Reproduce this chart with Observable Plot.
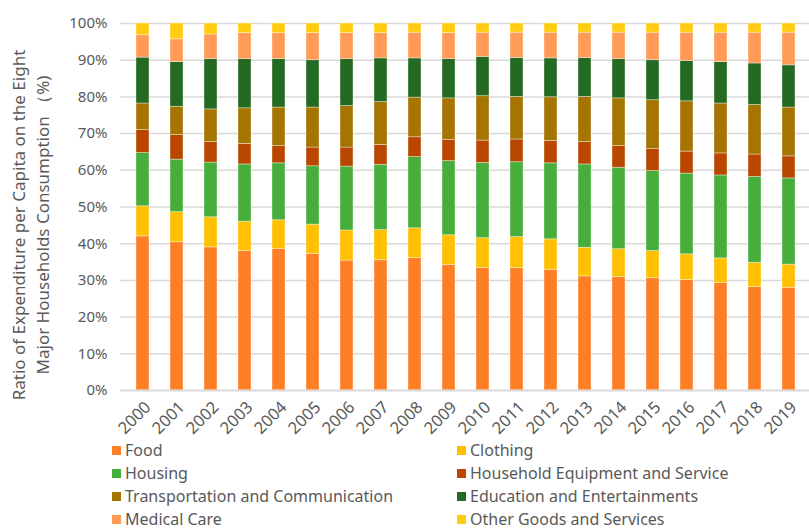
<!DOCTYPE html>
<html>
<head>
<meta charset="utf-8">
<script src="https://cdn.jsdelivr.net/npm/d3@7"></script>
<script src="https://cdn.jsdelivr.net/npm/@observablehq/plot@0.6"></script>
<style>
  html, body { margin: 0; padding: 0; background: #fff; }
  #wrap { position: relative; width: 809px; height: 529px; font-family: "Noto Sans", sans-serif; color: #595959; overflow: hidden; }
  #ylabel { position: absolute; left: 31px; top: 225px; transform: translate(-50%, -50%) rotate(-90deg); text-align: center; white-space: nowrap; font-size: 17px; line-height: 24px; color: #595959; }
  #legend { position: absolute; left: 0; top: 439px; width: 809px; }
  .li { position: absolute; font-size: 16px; line-height: 16px; white-space: nowrap; color: #595959; }
  .sw { position: absolute; width: 9px; height: 9px; }
</style>
</head>
<body>
<div id="wrap">
  <div id="chart"></div>
  <div id="ylabel">Ratio of Expenditure per Capita on the Eight<br>Major Households Consumption （%)</div>
  <div id="legend"></div>
</div>
<script>
const years = ["2000","2001","2002","2003","2004","2005","2006","2007","2008","2009","2010","2011","2012","2013","2014","2015","2016","2017","2018","2019"];
const categories = ["Food","Clothing","Housing","Household Equipment and Service","Transportation and Communication","Education and Entertainments","Medical Care","Other Goods and Services"];
const colors = ["#FF7F27","#FFC000","#47AE3C","#B94700","#A67500","#246A22","#FF9A57","#FFCC12"];

const food      = [42.0,40.4,39.0,38.0,38.6,37.2,35.4,35.5,36.1,34.2,33.4,33.4,32.9,31.1,30.9,30.6,30.1,29.3,28.2,28.0];
const clothing  = [ 8.2, 8.2, 8.2, 8.0, 7.8, 8.0, 8.2, 8.2, 8.1, 8.1, 8.1, 8.4, 8.3, 7.8, 7.6, 7.4, 7.0, 6.7, 6.6, 6.3];
const housing   = [14.5,14.3,14.9,15.6,15.5,15.9,17.4,17.8,19.4,20.2,20.5,20.4,20.7,22.7,22.2,21.8,22.0,22.6,23.4,23.5];
const household = [ 6.3, 6.7, 5.6, 5.6, 4.7, 5.1, 5.2, 5.4, 5.4, 5.8, 6.1, 6.2, 6.1, 6.1, 5.9, 6.0, 6.0, 6.0, 6.1, 6.0];
const transport = [ 7.2, 7.7, 8.9, 9.7,10.5,10.9,11.3,11.7,10.8,11.3,12.1,11.6,11.9,12.3,13.0,13.3,13.7,13.6,13.5,13.3];
const education = [12.5,12.2,13.7,13.4,13.2,12.9,12.8,11.9,10.7,10.7,10.7,10.6,10.6,10.6,10.7,10.9,11.0,11.3,11.3,11.5];
const medical   = [ 6.1, 6.2, 6.7, 7.1, 7.1, 7.4, 7.1, 6.9, 7.0, 7.1, 6.6, 6.9, 7.0, 6.9, 7.2, 7.5, 7.7, 8.0, 8.4, 8.9];
const other     = [ 3.2, 4.3, 3.0, 2.6, 2.6, 2.6, 2.6, 2.6, 2.5, 2.6, 2.5, 2.5, 2.5, 2.5, 2.5, 2.5, 2.5, 2.5, 2.5, 2.5];
const yTicks = [0,10,20,30,40,50,60,70,80,90,100];

const series = [food, clothing, housing, household, transport, education, medical, other];
const data = [];
years.forEach((yr, i) => {
  categories.forEach((c, k) => data.push({year: yr, category: c, value: series[k][i]}));
});

const chart = Plot.plot({
  width: 809,
  height: 440,
  marginLeft: 120,
  marginRight: -3,
  marginTop: 23,
  marginBottom: 50,
  style: {fontFamily: "'Noto Sans', sans-serif", color: "#595959", background: "transparent"},
  x: {domain: years, paddingInner: 0.61, paddingOuter: 0.305, label: null},
  y: {domain: [0, 100], label: null},
  color: {domain: categories, range: colors},
  marks: [
    Plot.ruleY(yTicks.filter(d => d > 0), {stroke: "#d9d9d9", strokeWidth: 1.5}),
    Plot.barY(data, Plot.stackY({x: "year", y: "value", fill: "category", order: categories, stroke: "#ffffff", strokeOpacity: 0.45, strokeWidth: 0.8})),
    Plot.ruleY([0], {stroke: "#d9d9d9", strokeWidth: 2.2}),
    Plot.axisY({ticks: yTicks, tickSize: 0, tickPadding: 13, tickFormat: d => d + "%", fontSize: 15, fill: "#595959"}),
    Plot.axisX({tickSize: 0, tickRotate: -45, tickPadding: 14, dx: 5, fontSize: 16.5, fill: "#595959"})
  ]
});
document.getElementById("chart").appendChild(chart);

const legend = document.getElementById("legend");
categories.forEach((c, k) => {
  const row = Math.floor(k / 2), col = k % 2;
  const x = col === 0 ? 112 : 457;
  const yc = 11.5 + row * 23;
  const sw = document.createElement("div");
  sw.className = "sw";
  sw.style.left = x + "px";
  sw.style.top = (yc - 4.5) + "px";
  sw.style.background = colors[k];
  legend.appendChild(sw);
  const t = document.createElement("div");
  t.className = "li";
  t.style.left = (x + 13) + "px";
  t.style.top = (yc - 8.5) + "px";
  t.textContent = c;
  legend.appendChild(t);
});
</script>
</body>
</html>
